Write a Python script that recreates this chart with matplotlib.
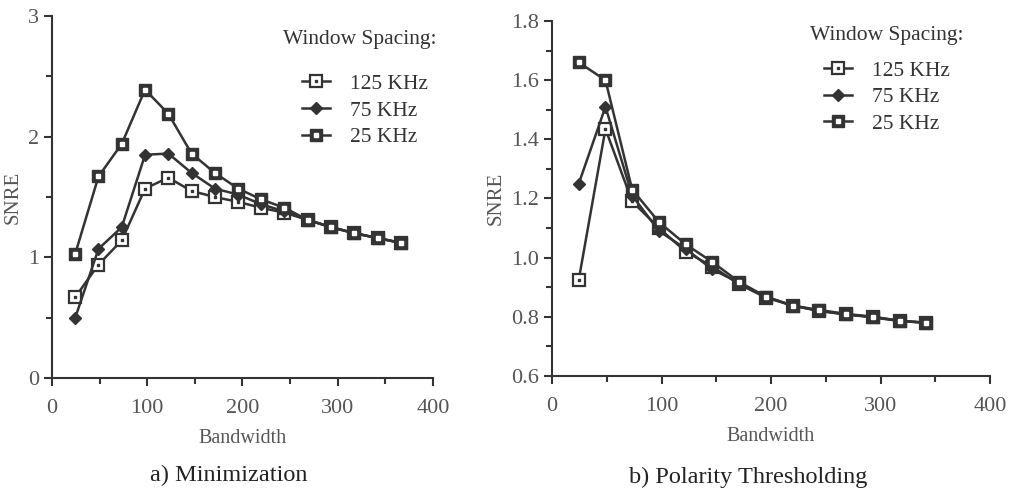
import matplotlib
matplotlib.use("Agg")
import matplotlib.pyplot as plt
from matplotlib.ticker import MultipleLocator, FormatStrFormatter
from matplotlib.legend_handler import HandlerTuple

plt.rcParams['font.family'] = ['Liberation Serif', 'DejaVu Serif']

# bandwidth values (shared grid)
bw_a = [24.4, 48.8, 73.2, 97.7, 122.1, 146.5, 170.9, 195.3, 219.7, 244.1, 268.6, 293.0, 317.4, 341.8, 366.2]
bw_b = [24.4, 48.8, 73.2, 97.7, 122.1, 146.5, 170.9, 195.3, 219.7, 244.1, 268.6, 293.0, 317.4, 341.8]

# a) Minimization
snre_125_a = [0.67, 0.94, 1.14, 1.57, 1.66, 1.55, 1.50, 1.46, 1.41, 1.37, 1.31, 1.25, 1.20, 1.16, 1.12]
snre_75_a = [0.50, 1.07, 1.25, 1.85, 1.86, 1.70, 1.57, 1.52, 1.44, 1.38, 1.31, 1.25, 1.20, 1.16, 1.12]
snre_25_a = [1.03, 1.67, 1.94, 2.39, 2.19, 1.86, 1.70, 1.57, 1.48, 1.41, 1.31, 1.25, 1.20, 1.16, 1.12]

# b) Polarity Thresholding
snre_125_b = [0.925, 1.435, 1.19, 1.10, 1.02, 0.97, 0.91, 0.865, 0.838, 0.82, 0.808, 0.798, 0.786, 0.78]
snre_75_b = [1.25, 1.51, 1.21, 1.09, 1.03, 0.96, 0.915, 0.868, 0.838, 0.82, 0.808, 0.80, 0.786, 0.78]
snre_25_b = [1.66, 1.60, 1.23, 1.12, 1.045, 0.985, 0.918, 0.868, 0.838, 0.823, 0.81, 0.80, 0.787, 0.78]

labels = ['125 KHz', '75 KHz', '25 KHz']

ink = '#333333'
tickc = '#555555'

fig = plt.figure(figsize=(10.14, 4.92), dpi=100)
ax1 = fig.add_axes([0.0513, 0.2317, 0.3757, 0.7358])
ax2 = fig.add_axes([0.5444, 0.2358, 0.4320, 0.7215])


def draw(ax, x, s125, s75, s25):
    h1, = ax.plot(x, s125, color=ink, lw=1.8, marker='s', ms=8, mfc='white', mec=ink, mew=1.6, zorder=3)
    d1, = ax.plot(x, s125, ls='none', marker='s', ms=1.8, mfc=ink, mec=ink, zorder=4)
    h2, = ax.plot(x, s75, color=ink, lw=1.8, marker='D', ms=6.5, mfc=ink, mec=ink, zorder=3)
    h3, = ax.plot(x, s25, color=ink, lw=1.8, marker='s', ms=8.5, mfc=ink, mec=ink, zorder=3)
    d3, = ax.plot(x, s25, ls='none', marker='s', ms=2.2, mfc='white', mec='white', zorder=4)
    for sp in ['top', 'right']:
        ax.spines[sp].set_visible(False)
    for sp in ['left', 'bottom']:
        ax.spines[sp].set_color(ink)
        ax.spines[sp].set_linewidth(1.5)
    ax.tick_params(which='major', direction='out', length=6, width=1.5, color=ink,
                   labelcolor=tickc, labelsize=16)
    ax.tick_params(axis='x', which='major', pad=9)
    ax.tick_params(which='minor', direction='out', length=4, width=1.5, color=ink)
    ax.set_xlim(0, 400)
    ax.xaxis.set_major_locator(MultipleLocator(100))
    ax.xaxis.set_minor_locator(MultipleLocator(50))
    ax.set_xlabel('Bandwidth', fontsize=14.5, color=tickc, labelpad=8)
    ax.set_ylabel('SNRE', fontsize=15, color=tickc)
    return [(h1, d1), h2, (h3, d3)]


leg_kw = dict(loc='upper left', frameon=False, fontsize=15.5, handlelength=1.3,
              handletextpad=0.95, labelspacing=0.3, borderaxespad=0, borderpad=0,
              labelcolor=ink, handler_map={tuple: HandlerTuple(ndivide=1)})

hs = draw(ax1, bw_a, snre_125_a, snre_75_a, snre_25_a)
ax1.set_ylim(0, 3)
ax1.yaxis.set_major_locator(MultipleLocator(1))
ax1.yaxis.set_minor_locator(MultipleLocator(0.5))
ax1.text(0.607, 0.935, 'Window Spacing:', transform=ax1.transAxes, fontsize=15.5, color=ink, va='center')
ax1.legend(hs, labels, bbox_to_anchor=(0.655, 0.84), **leg_kw)

hs = draw(ax2, bw_b, snre_125_b, snre_75_b, snre_25_b)
ax2.set_ylim(0.6, 1.8)
ax2.yaxis.set_major_locator(MultipleLocator(0.2))
ax2.yaxis.set_minor_locator(MultipleLocator(0.1))
ax2.yaxis.set_major_formatter(FormatStrFormatter('%.1f'))
ax2.text(0.59, 0.96, 'Window Spacing:', transform=ax2.transAxes, fontsize=15.5, color=ink, va='center')
ax2.legend(hs, labels, bbox_to_anchor=(0.62, 0.888), **leg_kw)

fig.text(229 / 1014, 1 - 475 / 492, 'a) Minimization', fontsize=17.5, ha='center', va='center', color='#222222')
fig.text(748 / 1014, 1 - 477 / 492, 'b) Polarity Thresholding', fontsize=17.5, ha='center', va='center', color='#222222')

fig.savefig('out.png', dpi=100, facecolor='white')
